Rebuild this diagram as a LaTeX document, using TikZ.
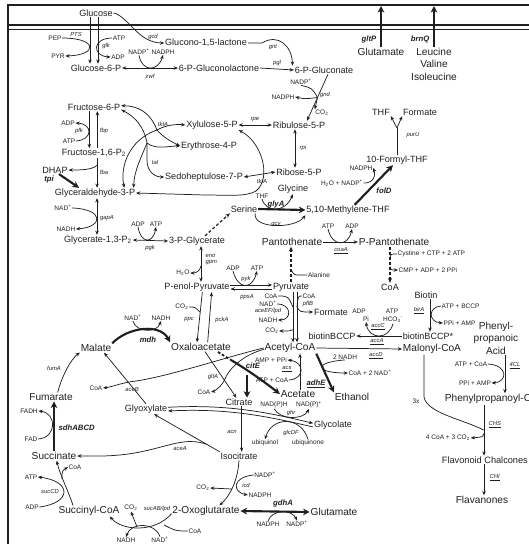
\documentclass[tikz,border=0pt]{standalone}
\usepackage{fontspec}
\setmainfont{Liberation Sans}
\usetikzlibrary{arrows.meta}
\definecolor{ink}{gray}{0.12}
\tikzset{
  ln/.style={draw=ink, line width=0.55pt},
  arr/.style={ln, -{Stealth[length=3.2pt,width=2.6pt]}},
  darr/.style={ln, {Stealth[length=3.2pt,width=2.6pt]}-{Stealth[length=3.2pt,width=2.6pt]}},
  thk/.style={draw=ink, line width=1.6pt, -{Stealth[length=5pt,width=5pt]}},
  dthk/.style={draw=ink, line width=1.6pt, {Stealth[length=5pt,width=5pt]}-{Stealth[length=5pt,width=5pt]}},
  dsh/.style={draw=ink, line width=0.9pt, dash pattern=on 2.2pt off 1.6pt, -{Stealth[length=3.6pt,width=3pt]}},
  met/.style={font=\fontsize{6.8}{7.5}\selectfont, text=ink, inner sep=0.5pt},
  big/.style={font=\fontsize{7.6}{9.4}\selectfont, text=ink, inner sep=0.5pt},
  cof/.style={font=\fontsize{4.9}{5.5}\selectfont, text=ink, inner sep=0.3pt},
  enz/.style={font=\fontsize{4.4}{5}\selectfont\itshape, text=ink, inner sep=0.3pt},
  benz/.style={font=\fontsize{5.8}{6.5}\selectfont\bfseries\itshape, text=ink, inner sep=0.3pt},
}
\newcommand{\sps}[1]{\textsuperscript{#1}}
\newcommand{\sbs}[1]{\textsubscript{#1}}
\begin{document}
\begin{tikzpicture}[x=0.75pt,y=-0.75pt]
\useasboundingbox (0,0) rectangle (529,544);
% frame and membrane
\draw[ink, line width=0.9pt] (8,544) -- (8,5) -- (529,5);
\draw[ink, line width=1.3pt] (8,25) -- (529,25);
\draw[ink, line width=0.6pt] (8,29) -- (529,29);

% ---------------- metabolites
\node[met] (glc) at (96,13) {Glucose};
\node[met] (gl15) at (206,43) {Glucono-1,5-lactone};
\node[met] (g6p) at (96,68) {Glucose-6-P};
\node[met] (pglac) at (219,68) {6-P-Gluconolactone};
\node[met] (pgn) at (324,70) {6-P-Gluconate};
\node[met] (f6p) at (94,107) {Fructose-6-P};
\node[met] (fbp) at (94,153) {Fructose-1,6-P\sbs{2}};
\node[met] (dhap) at (55,170) {DHAP};
\node[met] (g3p) at (95,193) {Glyceraldehyde-3-P};
\node[met] (bpg) at (98,240) {Glycerate-1,3-P\sbs{2}};
\node[met] (pga) at (197,241) {3-P-Glycerate};
\node[met] (xu5p) at (212,125) {Xylulose-5-P};
\node[met] (ru5p) at (299,125) {Ribulose-5-P};
\node[met] (e4p) at (209,146) {Erythrose-4-P};
\node[met] (s7p) at (204,177) {Sedoheptulose-7-P};
\node[met] (r5p) at (299,172) {Ribose-5-P};
\node[met] (ser) at (244,209) {Serine};
\node[met] (gly) at (293,189) {Glycine};
\node[met] (mthf) at (348,210) {5,10-Methylene-THF};
\node[met] (fthf) at (397,160) {10-Formyl-THF};
\node[met] (thfB) at (381,112) {THF};
\node[met] (forB) at (420,112) {Formate};
\node[big] (gluT) at (381,52) {Glutamate};
\node[big] (leu) at (434,52) {Leucine};
\node[big] (val) at (434,64) {Valine};
\node[big] (ile) at (434,77) {Isoleucine};
\node[met] (pep) at (197,287) {P-enol-Pyruvate};
\node[met] (pyr) at (291,287) {Pyruvate};
\node[big] (pan) at (292,242) {Pantothenate};
\node[big] (ppan) at (394,242) {P-Pantothenate};
\node[met] (coaP) at (390,287) {CoA};
\node[met] (btn) at (426,295) {Biotin};
\node[met] (bb) at (332,336) {biotinBCCP};
\node[met] (bbs) at (428,336) {biotinBCCP*};
\node[big] (accoa) at (290,348) {Acetyl-CoA};
\node[big] (malcoa) at (432,349) {Malonyl-CoA};
\node[met] (forA) at (331,312) {Formate};
\node[big] (oaa) at (201,347) {Oxaloacetate};
\node[big] (mala) at (96,348) {Malate};
\node[big] (fum) at (51,397) {Fumarate};
\node[big] (suc) at (54,456) {Succinate};
\node[big] (succoa) at (89,511) {Succinyl-CoA};
\node[big] (akg) at (206,511) {2-Oxoglutarate};
\node[big] (gluB) at (334,512) {Glutamate};
\node[met] (cit) at (239,402) {Citrate};
\node[met] (icit) at (239,456) {Isocitrate};
\node[met] (glx) at (146,409) {Glyoxylate};
\node[met] (glyc) at (333,425) {Glycolate};
\node[big] (ace) at (298,394) {Acetate};
\node[big] (eth) at (352,397) {Ethanol};
\node[big, align=center] (ppa) at (496,338) {Phenyl-\\propanoic\\Acid};
\node[big, anchor=west] (ppcoa) at (444,399) {Phenylpropanoyl-CoA};
\node[met, anchor=west, font=\fontsize{6.9}{8}\selectfont] (chal) at (441,460) {Flavonoid Chalcones};
\node[big] (flav) at (482,500) {Flavanones};

% ---------------- cofactor and enzyme labels
\node[cof] (pepA) at (55,38) {PEP};
\node[enz] (pts) at (76,34) {PTS};
\node[cof] (pyrA) at (58,56) {PYR};
\node[cof] (atpA) at (119,38) {ATP};
\node[enz] (glk) at (106,46) {glk};
\node[cof] (adpA) at (118,57) {ADP};
\node[enz] (gcd) at (153,37) {gcd};
\node[enz] (gnt) at (273,47) {gnt};
\node[cof] (nadpA) at (139,52) {NADP\sps{+}};
\node[cof] (nadphA) at (163,52) {NADPH};
\node[enz] (zwf) at (150,76) {zwf};
\node[enz] (pglE) at (277,63) {pgl};
\node[cof] (nadpB) at (301,82) {NADP\sps{+}};
\node[cof] (nadphB) at (283,97) {NADPH};
\node[enz] (gnd) at (325,95) {gnd};
\node[cof] (co2A) at (322,113) {CO\sbs{2}};
\node[enz] (rpe) at (255,120) {rpe};
\node[enz] (rpi) at (303,148) {rpi};
\node[enz] (tktB) at (262,181) {tktA};
\node[enz] (tktA1) at (163,124) {tktA};
\node[enz] (tal) at (155,162) {tal};
\node[cof] (adpB) at (68,123) {ADP};
\node[enz] (pfk) at (79,131) {pfk};
\node[cof] (atpB) at (69,141) {ATP};
\node[enz] (fbpE) at (104,131) {fbp};
\node[enz] (fba) at (104,172) {fba};
\node[benz] (tpi) at (49,179) {tpi};
\node[cof] (nadA) at (63,208) {NAD\sps{+}};
\node[cof] (nadhA) at (66,229) {NADH};
\node[enz] (gapA) at (107,218) {gapA};
\node[cof] (adpC) at (138,224) {ADP};
\node[cof] (atpC) at (156,224) {ATP};
\node[enz] (pgk) at (150,248) {pgk};
\node[cof] (thfA) at (262,196) {THF};
\node[benz] (glyA) at (276,204) {glyA};
\node[enz] (gcv) at (276,225) {gcv};
\node[cof] (h2o) at (342,183) {H\sbs{2}O + NADP\sps{+}};
\node[cof] (nadphC) at (361,168) {NADPH};
\node[benz] (folD) at (384,191) {folD};
\node[enz] (purU) at (413,135) {purU};
\node[benz, anchor=east] (gltP) at (377,39) {gltP};
\node[benz, anchor=east] (brnQ) at (430,39) {brnQ};
\node[cof] (h2oB) at (183,273) {H\sbs{2}O};
\node[enz, anchor=west] (eno) at (205,256) {eno};
\node[enz, anchor=west] (gpm) at (205,263) {gpm};
\node[cof] (adpD) at (233,268) {ADP};
\node[cof] (atpD) at (257,268) {ATP};
\node[enz] (pyk) at (246,279) {pyk};
\node[enz] (ppsA) at (247,297) {ppsA};
\node[cof] (co2B) at (182,307) {CO\sbs{2}};
\node[enz] (ppc) at (189,320) {ppc};
\node[enz] (pckA) at (222,320) {pckA};
\node[cof] (nadB) at (133,318) {NAD\sps{+}};
\node[cof] (nadhB) at (161,318) {NADH};
\node[benz] (mdh) at (148,340) {mdh};
\node[enz] (fumA) at (54,368) {fumA};
\node[cof] (coaB) at (96,388) {CoA};
\node[enz] (aceB) at (132,390) {aceB};
\node[cof] (fadh) at (29,411) {FADH};
\node[cof] (fad) at (31,439) {FAD};
\node[benz, anchor=west] (sdh) at (58,428) {sdhABCD};
\node[cof] (atpE) at (31,477) {ATP};
\node[cof] (adpE) at (32,507) {ADP};
\node[enz] (sucCD) at (50,491) {sucCD};
\node[cof] (coaC) at (75,467) {CoA};
\node[cof] (co2C) at (131,508) {CO\sbs{2}};
\node[enz] (sucAB) at (157,509) {sucAB/lpd};
\node[cof] (coaD) at (195,531) {CoA};
\node[cof] (nadhC) at (126,540) {NADH};
\node[cof] (nadC) at (160,540) {NAD\sps{+}};
\node[cof] (nadpC) at (265,475) {NADP\sps{+}};
\node[cof] (nadphD) at (260,495) {NADPH};
\node[cof] (co2D) at (203,488) {CO\sbs{2}};
\node[enz] (icd) at (246,485) {icd};
\node[enz] (acn) at (232,432) {acn};
\node[enz] (aceA) at (180,449) {aceA};
\node[cof] (nadphE) at (274,405) {NAD(P)H};
\node[cof] (nadpE) at (309,405) {NAD(P)\sps{+}};
\node[enz] (ghr) at (291,413) {ghr};
\node[cof] (ubqol) at (265,443) {ubiquinol};
\node[cof] (ubq) at (308,443) {ubiquinone};
\node[enz] (glcDF) at (291,433) {glcDF};
\node[cof] (coaE) at (271,296) {CoA};
\node[cof] (nadD) at (268,304) {NAD\sps{+}};
\node[enz] (aceEF) at (268,311) {aceEF/lpd};
\node[cof] (nadhD) at (268,320) {NADH};
\node[cof] (co2E) at (272,331) {CO\sbs{2}};
\node[cof] (coaF) at (309,296) {CoA};
\node[enz] (pflB) at (308,304) {pflB};
\node[cof] (ala) at (319,275) {Alanine};
\node[cof] (atpF) at (328,226) {ATP};
\node[cof] (adpF) at (352,226) {ADP};
\node[enz] (coaA) at (341,251) {\underline{coaA}};
\node[cof, anchor=west] (cys) at (397,254) {Cystine + CTP + 2 ATP};
\node[cof, anchor=west] (cmp) at (398,270) {CMP + ADP + 2 PPi};
\node[cof, anchor=west] (atpbccp) at (441,306) {ATP + BCCP};
\node[cof, anchor=west] (ppiamp) at (443,323) {PPi + AMP};
\node[enz] (birA) at (419,311) {\underline{birA}};
\node[cof] (adpG) at (359,311) {ADP};
\node[cof] (piA) at (366,319) {Pi};
\node[cof] (atpG) at (392,311) {ATP};
\node[cof] (hco3) at (393,320) {HCO\sbs{3}\sps{-}};
\node[enz] (accC) at (378,327) {\underline{accC}};
\node[enz] (accA) at (377,342) {\underline{accA}};
\node[enz] (accD) at (376,356) {\underline{accD}};
\node[cof] (x3) at (416,401) {3x};
\node[cof] (ccoa) at (448,438) {4 CoA + 3 CO\sbs{2}};
\node[enz, anchor=west] (chs) at (488,425) {\underline{CHS}};
\node[enz, anchor=west] (chi) at (489,478) {\underline{CHI}};
\node[cof] (atpcoa) at (471,364) {ATP + CoA};
\node[cof] (ppiamp2) at (475,383) {PPi + AMP};
\node[enz, anchor=west] (fcl) at (509,366) {\underline{4CL}};
\node[cof] (amp) at (271,360) {AMP + PPi};
\node[enz] (acs) at (287,369) {\underline{acs}};
\node[cof] (atpcoaB) at (272,380) {ATP + CoA};
\node[cof] (nadhF) at (345,357) {2 NADH};
\node[cof] (coanad) at (370,373) {CoA + 2 NAD\sps{+}};
\node[benz] (adhE) at (316,384) {\underline{adhE}};
\node[enz] (gltA) at (213,377) {gltA};
\node[cof] (coaG) at (204,392) {CoA};
\node[benz] (citE) at (253,366) {citE};
\node[cof] (nadphF) at (268,524) {NADPH};
\node[cof] (nadpF) at (297,524) {NADP\sps{+}};
\node[benz] (gdhA) at (283,503) {gdhA};

% ---------------- helper coordinates
\coordinate (J1) at (157,130);
\coordinate (J2) at (147,143);
\coordinate (purF) at (397,128);
\coordinate (gltTop) at (381,6);
\coordinate (brnTop) at (434,6);
\coordinate (xchs) at (484,0);
\coordinate (x4cl) at (505,0);
\coordinate (citA) at (218,352);
\coordinate (citB) at (231,360);
\coordinate (citC) at (247,375);

% ---------------- glucose uptake
\draw[arr] ([xshift=-4.5pt]glc.south) -- ([xshift=-4.5pt]glc.south |- g6p.north);
\draw[arr] ([xshift=1.5pt]glc.south) -- ([xshift=1.5pt]glc.south |- g6p.north);
\draw[arr] (pepA.east) .. controls (98,38) and (98,55) .. (pyrA.east);
\draw[arr] (atpA.west) .. controls (92,38) and (92,56) .. (adpA.west);
\draw[arr] (glc.east) .. controls (128,16) and (138,43) .. (gl15.west);
\draw[arr] (gl15.east) -- (262,43) .. controls (278,33) and (292,46) .. ([xshift=-1pt]pgn.north west);

% ---------------- oxidative PPP
\draw[darr] (g6p.east) -- (pglac.west);
\draw[arr] (nadpA.south) .. controls (142,72) and (158,72) .. (nadphA.south);
\draw[arr] (pglac.east) -- (pgn.west);
\draw[arr] ([xshift=3pt]pgn.south) -- ([xshift=6pt]ru5p.north) coordinate[pos=0.5] (gndM);
\draw[arr] (nadpB.south) .. controls (312,88) .. (gndM) .. controls (305,99) .. (nadphB.east);
\draw[arr] (gndM) -- (co2A.north west);
\draw[darr] (xu5p.east) -- (ru5p.west);
\draw[darr] ([xshift=-3pt]ru5p.south) -- ([xshift=-3pt]ru5p.south |- r5p.north);
\draw[darr] (s7p.east) -- (r5p.west);
\draw[darr] (xu5p.south east) .. controls (262,142) and (272,178) .. (256,191) .. controls (246,197) and (228,195) .. (205,195) -- (g3p.east);

% ---------------- tkt / tal
\draw[arr] (J1) .. controls (150,112) and (138,106) .. ([yshift=1pt]f6p.east);
\draw[arr] (J1) .. controls (166,125) and (176,124) .. (xu5p.west);
\draw[arr] (J1) .. controls (128,140) and (120,168) .. ([xshift=22pt]g3p.north);
\draw[arr] (J1) .. controls (164,138) and (172,142) .. (e4p.west);
\draw[arr] (J2) .. controls (144,126) and (134,116) .. ([yshift=-2pt]f6p.east);
\draw[arr] (J2) .. controls (156,150) and (168,146) .. (e4p.west);
\draw[arr] (J2) -- (147,160) .. controls (147,172) and (155,177) .. (s7p.west);
\draw[arr] (J2) .. controls (140,160) and (134,172) .. ([xshift=29pt]g3p.north);

% ---------------- upper glycolysis
\draw[arr] ([xshift=-3.5pt]f6p.south) -- ([xshift=-3.5pt]f6p.south |- fbp.north);
\draw[arr] ([xshift=2.5pt]f6p.south |- fbp.north) -- ([xshift=2.5pt]f6p.south);
\draw[arr] (atpB.east) .. controls (93,140) and (93,124) .. (adpB.east);
\draw[arr] ([xshift=2.3pt]fbp.south) -- ([xshift=2.3pt]fbp.south |- g3p.north) coordinate[pos=0.25] (fbaM);
\draw[arr] (fbaM) .. controls (92,170) and (80,170) .. (dhap.east);
\draw[thk] ([xshift=3pt]dhap.south) -- ([xshift=-12pt]g3p.north);
\draw[darr] ([xshift=1.5pt]g3p.south) -- ([xshift=1.5pt]g3p.south |- bpg.north);
\draw[arr] (nadA.east) .. controls (104,209) and (104,227) .. (nadhA.east);
\draw[darr] (bpg.east) -- (pga.west);
\draw[arr] (adpC.south) .. controls (141,244) and (153,244) .. (atpC.south);

% ---------------- serine, C1
\draw[dsh] ([xshift=6pt]pga.north) -- (ser.south west);
\draw[thk] (ser.east) -- (mthf.west);
\draw[arr] (thfA.south) .. controls (266,213) and (285,213) .. (gly.south);
\draw[arr] ([xshift=-2pt]ser.south east) .. controls (252,229) and (295,229) .. (mthf.south west);
\draw[thk] ([xshift=5pt]mthf.north) -- ([xshift=-3pt]fthf.south);
\draw[arr] (h2o.east) .. controls (378,183) and (374,170) .. (nadphC.east);
\draw[ln] (fthf.north) -- (purF);
\draw[arr] (purF) -- (thfB.south east);
\draw[arr] (purF) -- (forB.south west);
\draw[thk] (gluT.north) -- (gltTop);
\draw[thk] (leu.north) -- (brnTop);

% ---------------- lower glycolysis
\draw[darr] ([xshift=3pt]pga.south) -- ([xshift=3pt]pga.south |- pep.north) coordinate[pos=0.55] (enoM);
\draw[arr] (enoM) .. controls (200,272) and (195,273) .. (h2oB.east);
\draw[arr] ([yshift=1.5pt]pep.east) -- ([yshift=1.5pt]pep.east -| pyr.west);
\draw[arr] ([yshift=-1.5pt]pyr.west) -- ([yshift=-1.5pt]pyr.west -| pep.east);
\draw[arr] (adpD.south) .. controls (238,290) and (252,290) .. (atpD.south);
\draw[arr] ([xshift=4pt]pep.south) -- ([xshift=-3pt]oaa.north) coordinate[pos=0.4] (ppcM);
\draw[arr] ([xshift=5pt]oaa.north) -- ([xshift=11pt]pep.south);
\draw[ln] (co2B.east) .. controls (195,307) .. (ppcM);

% ---------------- pyruvate node
\draw[arr] ([xshift=1.5pt]pyr.south) -- ([xshift=1.5pt]pyr.south |- accoa.north) coordinate[pos=0.3] (pdhA) coordinate[pos=0.75] (pdhC);
\draw[arr] ([xshift=4.5pt]pyr.south) -- ([xshift=4.5pt]pyr.south |- accoa.north) coordinate[pos=0.3] (pflA);
\draw[ln] (coaE.east) .. controls (288,296) .. (pdhA);
\draw[arr] (nadD.east) .. controls (292,304) and (292,320) .. (nadhD.east);
\draw[arr] (pdhC) .. controls (290,331) .. (co2E.east);
\draw[ln] (coaF.west) .. controls (298,296) .. (pflA);
\draw[arr] (pflA) .. controls (300,312) .. (forA.west);
\draw[dsh] (pyr.north) -- (pyr.north |- pan.south) coordinate[pos=0.35] (alaM);
\draw[ln] (ala.west) -- (300,275) .. controls (294,275) .. (alaM);
\draw[arr] (pan.east) -- (ppan.west);
\draw[arr] (atpF.south) .. controls (332,247) and (348,247) .. (adpF.south);
\draw[dsh] ([xshift=-3pt]ppan.south) -- ([xshift=-3pt]ppan.south |- coaP.north) coordinate[pos=0.3] (cysM) coordinate[pos=0.55] (cmpM);
\draw[ln] (cys.west) .. controls (391,254) .. (cysM);
\draw[arr] (cmpM) .. controls (391,270) .. (cmp.west);

% ---------------- biotin, malonyl-CoA, flavonoids
\draw[arr] ([xshift=3pt]btn.south) -- ([xshift=3pt]btn.south |- bbs.north);
\draw[arr] (atpbccp.west) .. controls (428,307) and (428,322) .. (ppiamp.west);
\draw[arr] (bbs.west) -- (bb.east);
\draw[arr] (hco3.south) .. controls (389,340) and (369,340) .. (piA.south);
\draw[arr] (accoa.east) -- (malcoa.west);
\draw[arr] (ppcoa.south -| xchs) -- (chal.north -| xchs) coordinate[pos=0.5] (chsM) coordinate[pos=0.56] (chsN);
\draw[ln] ([xshift=-6pt]malcoa.south) -- (424,397) .. controls (427,413) and (462,419) .. (chsM);
\draw[arr] (chsN) .. controls (483,437) .. (ccoa.east);
\draw[arr] (chal.south -| xchs) -- (flav.north -| xchs);
\draw[arr] (ppa.south -| x4cl) -- (ppcoa.north -| x4cl);
\draw[arr] (atpcoa.east) .. controls (508,365) and (508,382) .. (ppiamp2.east);

% ---------------- acetate, ethanol, citE
\draw[arr] ([xshift=1.5pt]ace.north) -- ([xshift=1.5pt]ace.north |- accoa.south);
\draw[arr] (atpcoaB.east) .. controls (305,379) and (305,362) .. (amp.east);
\draw[thk] (accoa.south east) -- (eth.north west);
\draw[arr] (nadhF.south) .. controls (314,362) and (314,373) .. (coanad.west);
\draw[arr] ([xshift=3pt]oaa.south) -- ([xshift=-2pt]cit.north);
\draw[arr] ([yshift=-1pt]accoa.west) .. controls (240,356) and (228,371) .. (225,379) .. controls (222,386) and (215,391) .. (coaG.east);
\draw[ink, line width=1.4pt, dash pattern=on 2pt off 1.5pt] (citA) -- (citB);
\draw[thk] (citB) .. controls (246,369) and (262,380) .. (ace.west);
\draw[thk] (citC) -- ([xshift=6pt]cit.north);

% ---------------- TCA / glyoxylate
\draw[thk] (mala.north east) .. controls (128,327) and (160,323) .. (oaa.north west);
\draw[arr] (nadB.south) .. controls (137,333) and (157,333) .. (nadhB.south);
\draw[arr] ([xshift=5pt]fum.north) .. controls (62,375) and (72,358) .. (mala.south west);
\draw[arr] (glx.north) -- ([xshift=6pt]mala.south);
\draw[arr] (accoa.west) .. controls (230,356) and (170,376) .. (136,381) .. controls (120,383) and (112,387) .. (coaB.east);
\draw[thk] (suc.north) -- (suc.north |- fum.south);
\draw[arr] (fad.east) .. controls (57,438) and (57,413) .. (fadh.east);
\draw[arr] ([xshift=-12pt]succoa.north) .. controls (68,490) and (60,475) .. ([xshift=2pt]suc.south);
\draw[arr] (adpE.east) .. controls (72,503) and (72,481) .. (atpE.east);
\draw[arr] (62,479) .. controls (62,471) .. (coaC.west);
\draw[arr] ([yshift=-2pt]akg.west) .. controls (155,533) and (122,531) .. ([xshift=-8pt,yshift=-4pt]succoa.east);
\draw[arr] (137,527) -- (co2C.south);
\draw[ln] (coaD.west) .. controls (176,531) .. (164,525);
\draw[arr] (nadC.north) .. controls (155,522) and (131,522) .. (nadhC.north);
\draw[arr] (icit.south) .. controls (238,480) and (230,496) .. ([xshift=10pt]akg.north);
\draw[arr] (nadpC.west) .. controls (232,477) and (232,492) .. (nadphD.west);
\draw[arr] (232,489) -- (co2D.east);
\draw[arr] ([xshift=2pt]cit.south) -- ([xshift=2pt]cit.south |- icit.north);
\draw[arr] (icit.north west) -- ([xshift=6pt]glx.south) coordinate[pos=0.2] (aceAM);
\draw[arr] (aceAM) .. controls (185,437) and (170,446) .. (140,452) .. controls (115,457) and (95,456) .. (suc.east);
\draw[arr] ([yshift=1.3pt]glx.east) .. controls (230,404) and (270,413) .. ([yshift=1.3pt]glyc.west);
\draw[arr] ([yshift=-1.5pt]glyc.west) .. controls (270,417) and (230,408) .. ([yshift=-1.5pt]glx.east);
\draw[arr] (nadphE.south) .. controls (280,420) and (303,420) .. (nadpE.south);
\draw[arr] (ubq.north) .. controls (301,416) and (272,416) .. (ubqol.north);
\draw[dthk] (akg.east) -- (gluB.west);
\draw[arr] (nadphF.north) .. controls (272,509) and (292,509) .. (nadpF.north);
\end{tikzpicture}
\end{document}
